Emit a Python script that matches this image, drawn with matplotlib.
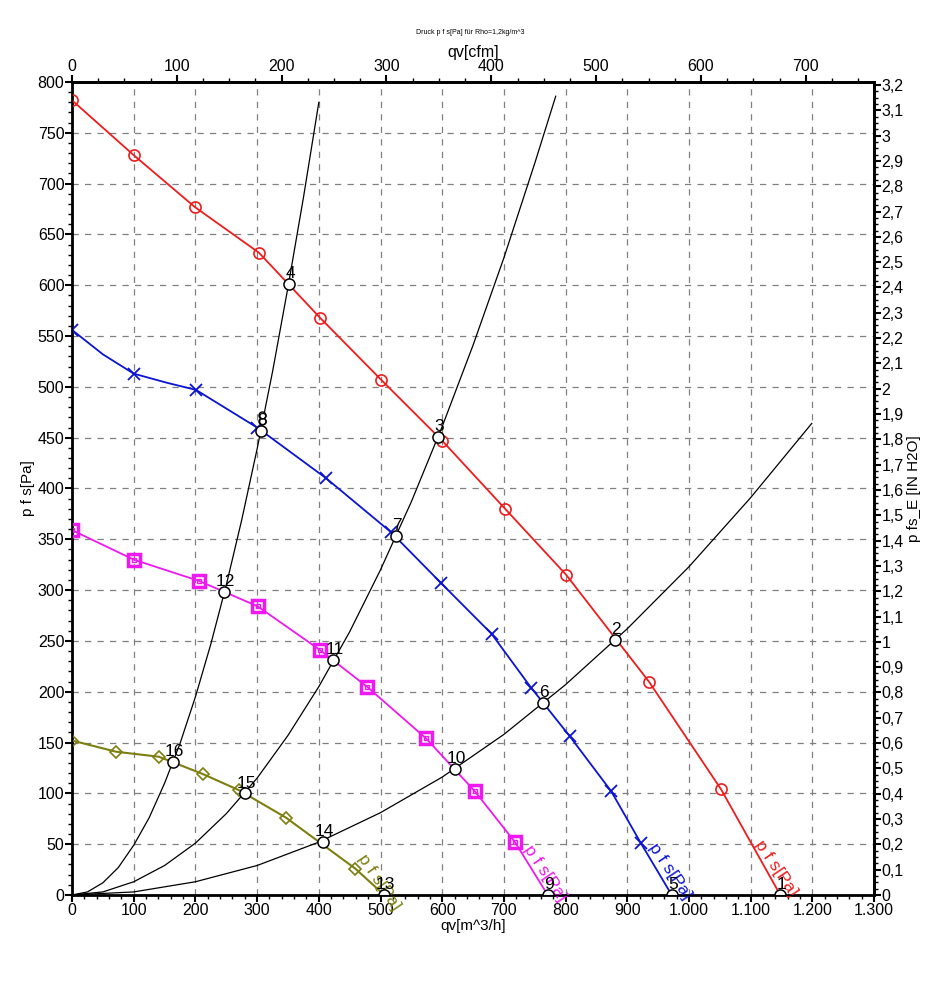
import numpy as np
import matplotlib
matplotlib.use('Agg')
import matplotlib.pyplot as plt
from matplotlib.ticker import MultipleLocator, FuncFormatter

plt.rcParams['font.family'] = ['Liberation Sans', 'DejaVu Sans']

# Kennlinien p f s [Pa] ueber qv [m^3/h]
red_q = [0, 100, 199, 303, 402, 501, 600, 702, 801, 935, 1052, 1148]
red_p = [782, 728, 677, 632, 568, 507, 447, 380, 315, 210, 104, 0]

blue_q = [0, 50, 100, 154, 201, 300, 412, 517, 598, 680, 744, 807, 874, 922, 972]
blue_p = [556, 532, 513, 504, 497, 460, 410, 357, 307, 257, 204, 156, 102, 51, 0]
blue_mark = [0, 2, 4, 5, 6, 7, 8, 9, 10, 11, 12, 13]

mag_q = [0, 100, 206, 301, 402, 478, 574, 653, 718, 771]
mag_p = [359, 330, 309, 284, 241, 205, 154, 102, 52, 0]

olive_q = [0, 71, 141, 212, 271, 347, 459, 506]
olive_p = [152, 141, 136, 119, 103, 76, 26, 0]

# Anlagenkennlinien
sysA_q = [0, 25, 50, 75, 100, 125, 150, 175, 200, 225, 250, 275, 300, 325, 350, 375, 400]
sysA_p = [0, 3, 12, 27, 49, 76, 110, 149, 195, 247, 305, 369, 439, 515, 598, 686, 780]
sysB_q = [0, 50, 100, 150, 200, 250, 300, 350, 400, 450, 500, 550, 600, 650, 700, 750, 784]
sysB_p = [0, 3, 13, 29, 51, 80, 115, 157, 205, 259, 320, 387, 461, 541, 627, 720, 786]
sysC_q = [0, 100, 200, 300, 400, 500, 600, 700, 800, 900, 1000, 1100, 1199]
sysC_p = [0, 3, 13, 29, 52, 81, 116, 158, 207, 262, 323, 391, 464]

# Betriebspunkte
ops_q = [1147, 880, 593, 352, 972, 763, 525, 306, 771, 621, 423, 246, 506, 407, 280, 164]
ops_p = [0, 251, 451, 601, 0, 189, 353, 457, 0, 124, 231, 298, 0, 52, 100, 131]
ops_lbl = [str(i) for i in range(1, 17)]
# kleine Doppelkreise bei Punkt 8
dup_q = [308, 308]
dup_p = [466, 472]

RED = '#ee1c1c'
BLUE = '#0a14d2'
MAG = '#f018f0'
OLIVE = '#7f7f10'

fig = plt.figure(figsize=(9.48, 9.81), dpi=100)
ax = fig.add_axes([0.076, 0.0877, 0.846, 0.8287])

for sq, sp in [(sysA_q, sysA_p), (sysB_q, sysB_p), (sysC_q, sysC_p)]:
    ax.plot(sq, sp, color='black', lw=0.9, zorder=3)

ax.plot(red_q, red_p, color=RED, lw=1.3, marker='o', ms=8, mfc='none', mec=RED,
        mew=1.2, markevery=list(range(len(red_q) - 1)), zorder=4)
ax.plot(blue_q, blue_p, color=BLUE, lw=1.3, marker='x', ms=9, mec=BLUE, mew=1.3,
        markevery=blue_mark, zorder=4)
ax.plot(mag_q, mag_p, color=MAG, lw=1.3, marker='s', ms=8, mfc='none', mec=MAG,
        mew=2.5, markevery=list(range(len(mag_q) - 1)), zorder=4)
ax.plot(mag_q[:-1], mag_p[:-1], ls='none', marker='s', ms=3, mfc='none', mec=MAG, mew=1, zorder=4)
ax.plot(olive_q, olive_p, color=OLIVE, lw=1.5, marker='D', ms=6, mfc='none', mec=OLIVE,
        mew=1.2, markevery=list(range(len(olive_q) - 1)), zorder=4)

ax.plot(dup_q, dup_p, ls='none', marker='o', ms=5, mfc='white', mec='black', mew=1, zorder=5)
ax.plot(ops_q, ops_p, ls='none', marker='o', ms=8, mfc='white', mec='black', mew=1.1, zorder=6)
for q, p, t in zip(ops_q, ops_p, ops_lbl):
    ax.annotate(t, (q, p), xytext=(1, 2), textcoords='offset points', ha='center',
                va='bottom', fontsize=12.5, zorder=7)

# Beschriftung an den Kennlinien
for q, p, c in [(1113, 52, RED), (940, 49, BLUE), (737, 47, MAG), (468, 39, OLIVE)]:
    ax.text(q, p, 'p f s[Pa]', color=c, fontsize=12.5, rotation=-56,
            rotation_mode='anchor', ha='left', va='center', zorder=5)

ax.set_xlim(0, 1300)
ax.set_ylim(0, 800)
ax.xaxis.set_major_locator(MultipleLocator(100))
ax.xaxis.set_minor_locator(MultipleLocator(20))
ax.yaxis.set_major_locator(MultipleLocator(50))
ax.yaxis.set_minor_locator(MultipleLocator(10))
ax.xaxis.set_major_formatter(FuncFormatter(lambda v, pos: f"{int(round(v)):,}".replace(',', '.')))
ax.grid(True, which='major', color='#808080', ls=(0, (5, 5)), lw=0.9)
ax.tick_params(which='major', length=5, width=1.5, labelsize=11.5, pad=0.5)
ax.tick_params(which='minor', length=3, width=1)
for s in ax.spines.values():
    s.set_linewidth(2)

ax.set_xlabel('qv[m^3/h]', fontsize=11, labelpad=1)
ax.set_ylabel('p f s[Pa]', fontsize=11, labelpad=2)

# obere Achse in cfm
top = ax.secondary_xaxis('top', functions=(lambda x: x / 1.699, lambda x: x * 1.699))
top.xaxis.set_major_locator(MultipleLocator(100))
top.xaxis.set_minor_locator(MultipleLocator(25))
top.tick_params(which='major', length=5, width=1.5, labelsize=11.5, pad=0.5)
top.tick_params(which='minor', length=3, width=1)
top.set_xlabel('qv[cfm]', fontsize=11.5, labelpad=2)
top.spines['top'].set_linewidth(2)

# rechte Achse in inch H2O
ax2 = ax.twinx()
ax2.set_ylim(0, 800 / 249.089)
ax2.yaxis.set_major_locator(MultipleLocator(0.1))
ax2.yaxis.set_minor_locator(MultipleLocator(0.025))
ax2.yaxis.set_major_formatter(FuncFormatter(lambda v, pos: f"{v:.1f}".rstrip('0').rstrip('.').replace('.', ',')))
ax2.tick_params(which='major', length=5, width=1.5, labelsize=11.5, pad=0.5)
ax2.tick_params(which='minor', length=3, width=1)
ax2.spines['right'].set_linewidth(2)
ax2.set_ylabel('p fs_E [IN H2O]', fontsize=11, labelpad=2)

fig.text(0.496, 0.967, 'Druck p f s[Pa] für Rho=1,2kg/m^3', ha='center', va='center', fontsize=5)

fig.savefig('out.png', dpi=100)
